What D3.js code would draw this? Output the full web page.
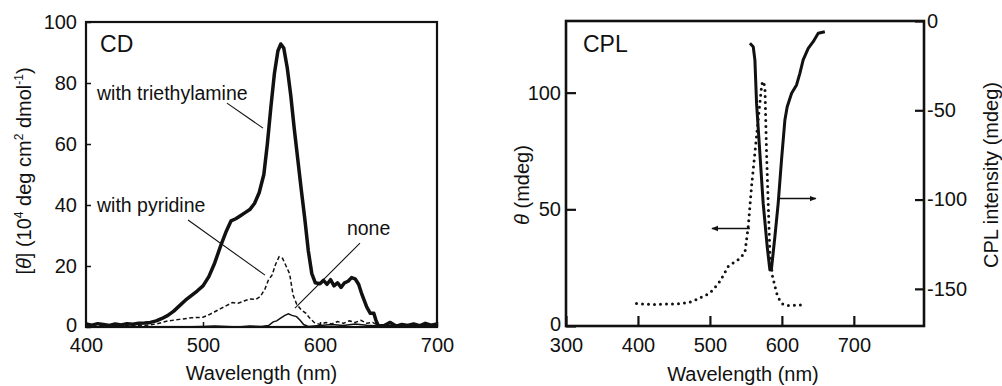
<!DOCTYPE html>
<html>
<head>
<meta charset="utf-8">
<script src="https://cdn.jsdelivr.net/npm/d3@7"></script>
<style>
  html, body { margin: 0; padding: 0; background: #fff; }
  svg { display: block; font-family: "Liberation Sans", Arial, sans-serif; }
  text { fill: #111; }
</style>
</head>
<body>
<svg id="chart" width="1002" height="386"></svg>
<script>
// ---------------- DATA ----------------
// Left panel (CD) – wavelength (nm) and [θ] (10^4 deg cm2 dmol-1)
const teaWl  = [400,405,410,415,420,425,430,435,440,445,450,455,460,465,470,475,480,485,490,495,500,505,510,515,520,524,528,532,536,540,544,548,552,555,558,561,564,566.5,569,572,575,578,581,584,587,590,593,596,600,603,606,609,612,615,618,621,624,627,630,633,636,640,643,646,648,650,655,660,665,670,675,680,685,690,695,700];
const teaVal = [1.0,0.6,1.1,0.8,0.5,1.0,0.7,1.1,0.9,1.2,1.3,1.5,2.0,2.8,3.8,5.2,7.0,8.8,10.3,11.8,13.5,16.5,21,26.5,31.5,34.8,35.5,36.5,37.5,38.5,40.5,44,50,60,72,83,90.5,92.8,91.5,85,76,65,55,45,35.5,25,17.5,14.5,14.2,15.3,14.0,15.5,13.5,14.5,13.0,14.5,15.0,16.2,15.8,14.0,10.5,6.5,4.5,4.5,2.0,0.3,0.5,1.5,0.3,0.8,0.5,1.0,0.4,1.2,0.6,1.0];

const pyrWl  = [400,410,420,430,440,450,460,470,480,490,500,505,510,515,520,525,530,535,540,545,549,553,556,559,562,565,568,571,574,577,580,584,588,591,595,600,605,610,615,620,625,630,635,640,645,650,660,670,680,690,700];
const pyrVal = [0.5,0.3,0.6,0.4,0.6,0.5,1.0,2.0,2.5,3.0,3.2,4.0,5.0,6.0,7.0,8.0,7.8,8.5,9.2,9.0,10,12.5,15.5,17,20.5,23,22.5,20,17.5,10.5,7.5,5.6,4.5,3,1.5,0.8,1.5,1.0,1.8,1.2,2.0,1.5,2.2,1.2,1.5,0.5,0.8,0.5,0.7,0.4,0.6];

const noneWl  = [400,420,440,460,480,500,510,520,530,540,550,556,560,563,566,570,573,576,580,583,586,590,600,610,620,630,640,650,660,670,680,690,700];
const noneVal = [0,0.2,0,0.1,0,0.2,0.3,0.2,0,0.3,0.2,0.5,1.7,2.0,2.8,3.8,4.3,3.8,3.4,2.2,0.8,0.2,0.5,0.8,0.5,1.0,0.6,0.3,0.5,0.8,0.4,0.8,0.5];

// Right panel (CPL)
const thetaWl  = [398,412,426,440,454,468,478,486,493,500,507,514,520,525.5,531,537,543,548.6,553.2,557.9,562.5,567.1,571.8,573.2,576.4,578.7,581,583.3,587,592.6,597,601.8,608,615.7,624,632];
const thetaVal = [9.6,9.3,9.2,9.4,9.5,9.9,10.8,12.1,13.0,14.2,16.5,19.2,22.5,25.6,26.8,27.8,29.5,31.4,42.5,60,74.2,88.5,102.8,104.9,102.8,74.2,52.8,31.4,21.3,14.2,11.0,9.2,8.8,8.8,9.0,8.8];

const cplWl  = [555.6,560.2,562.5,564.8,569.4,574,579.6,583.3,585.6,590.3,594.9,599.5,604.2,607.4,613.5,620.4,625,629.6,636.6,643.5,650.5,659.7];
const cplVal = [-12.5,-14.4,-21.8,-46,-74,-102,-126.4,-139.4,-138.5,-120.8,-102,-77.8,-55.4,-48,-40.5,-35.8,-29.3,-21.8,-15.3,-11.6,-6.9,-6.0];

// Tick values
const cdXTicks = [400,500,600,700];
const cdYTicks = [0,20,40,60,80,100];
const cplXTicks = [300,400,500,600,700];
const cplYTicks = [0,50,100];
const cplY2Ticks = [0,-50,-100,-150];

// Annotations (data units)
const cdLabels = [
  {text:"with triethylamine", wl:409.4, v:74.3, from:[520.5,73.4], to:[551.3,65.2]},
  {text:"with pyridine",      wl:409.4, v:37.6, from:[487.2,35.1], to:[553.0,17.0]},
  {text:"none",               wl:623.0, v:30.2, from:[634.2,27.5], to:[578.6,6.2]}
];
const cplArrows = [
  {from:[555.6,41.8], to:[502.8,41.8]},
  {from:[597.2,54.6], to:[647.2,54.6]}
];

// ---------------- DRAW ----------------
const svg = d3.select("#chart");
const defs = svg.append("defs");
defs.append("marker").attr("id","arrow").attr("viewBox","0 0 10 10")
  .attr("refX",9).attr("refY",5).attr("markerWidth",7).attr("markerHeight",7)
  .attr("markerUnits","userSpaceOnUse").attr("orient","auto")
  .append("path").attr("d","M0,1 L10,5 L0,9 Z").attr("fill","#111");

const fmt = d => String(d);   // plain hyphen-minus like the reference

function styleAxis(g, fs){
  g.select(".domain").remove();
  g.selectAll(".tick line").attr("stroke","#111").attr("stroke-width",1.5);
  g.selectAll(".tick text").attr("font-size",fs).attr("fill","#111")
    .attr("font-family","'Liberation Sans', Arial, sans-serif");
}
function nudgeZero(g, dy){
  g.selectAll(".tick").filter(d=>d===0).select("text").attr("y", function(){ return (+d3.select(this).attr("y")||0) + dy; });
}

// ---- Left panel ----
const L = {x0:86, x1:437, y0:22, y1:327};
const xL = d3.scaleLinear().domain([400,700]).range([L.x0,L.x1]);
const yL = d3.scaleLinear().domain([0,100]).range([L.y1,L.y0]);
const gL = svg.append("g");

gL.append("g").attr("transform",`translate(0,${L.y1})`)
  .call(d3.axisBottom(xL).tickValues(cdXTicks).tickSizeInner(-5).tickSizeOuter(0).tickPadding(11).tickFormat(fmt))
  .call(g=>styleAxis(g,20));
gL.append("g").attr("transform",`translate(${L.x0},0)`)
  .call(d3.axisLeft(yL).tickValues(cdYTicks).tickSizeInner(-5).tickSizeOuter(0).tickPadding(9).tickFormat(fmt))
  .call(g=>styleAxis(g,20)).call(g=>nudgeZero(g,-2));

const lineL = (wl, v) => d3.line().x((d,i)=>xL(wl[i])).y((d,i)=>yL(v[i])).curve(d3.curveLinear)(wl);
gL.append("path").attr("d",lineL(noneWl,noneVal)).attr("fill","none").attr("stroke","#111").attr("stroke-width",1.5);
gL.append("path").attr("d",lineL(pyrWl,pyrVal)).attr("fill","none").attr("stroke","#111").attr("stroke-width",1.5).attr("stroke-dasharray","4,2.5");
gL.append("path").attr("d",lineL(teaWl,teaVal)).attr("fill","none").attr("stroke","#111").attr("stroke-width",3.5).attr("stroke-linejoin","round");

gL.append("rect").attr("x",L.x0).attr("y",L.y0).attr("width",L.x1-L.x0).attr("height",L.y1-L.y0)
  .attr("fill","none").attr("stroke","#111").attr("stroke-width",2.2);

cdLabels.forEach(a=>{
  gL.append("text").attr("x",xL(a.wl)).attr("y",yL(a.v)).attr("font-size",19.5).text(a.text);
  gL.append("line").attr("x1",xL(a.from[0])).attr("y1",yL(a.from[1])).attr("x2",xL(a.to[0])).attr("y2",yL(a.to[1]))
    .attr("stroke","#111").attr("stroke-width",1.1);
});
gL.append("text").attr("x",xL(412)).attr("y",yL(90.2)).attr("font-size",23).text("CD");

gL.append("text").attr("x",(L.x0+L.x1)/2).attr("y",380).attr("text-anchor","middle").attr("font-size",20).text("Wavelength (nm)");

const yt = gL.append("text").attr("transform",`translate(31,${171}) rotate(-90)`).attr("text-anchor","middle").attr("font-size",20);
yt.append("tspan").text("[");
yt.append("tspan").attr("font-style","italic").text("θ");
yt.append("tspan").text("] (10");
yt.append("tspan").attr("font-size",12).attr("dy",-8).text("4");
yt.append("tspan").attr("dy",8).text(" deg cm");
yt.append("tspan").attr("font-size",12).attr("dy",-8).text("2");
yt.append("tspan").attr("dy",8).text(" dmol");
yt.append("tspan").attr("font-size",12).attr("dy",-8).text("-1");
yt.append("tspan").attr("dy",8).text(")");

// ---- Right panel ----
const R = {x0:566, x1:924, y0:21, y1:326};
const xR = d3.scaleLinear().domain([300,797.5]).range([R.x0,R.x1]);
const yR = d3.scaleLinear().domain([0,130.7]).range([R.y1,R.y0]);
const yR2 = d3.scaleLinear().domain([-170.8,0]).range([R.y1,R.y0]);
const gR = svg.append("g");

gR.append("g").attr("transform",`translate(0,${R.y1})`)
  .call(d3.axisBottom(xR).tickValues(cplXTicks).tickSizeInner(-10).tickSizeOuter(0).tickPadding(12).tickFormat(fmt))
  .call(g=>styleAxis(g,20)).call(g=>g.selectAll(".tick line").attr("stroke-width",2.2));
gR.append("g").attr("transform",`translate(${R.x0},0)`)
  .call(d3.axisLeft(yR).tickValues(cplYTicks).tickSizeInner(-10).tickSizeOuter(0).tickPadding(5).tickFormat(fmt))
  .call(g=>styleAxis(g,20)).call(g=>g.selectAll(".tick line").attr("stroke-width",2.2)).call(g=>nudgeZero(g,-2));
gR.append("g").attr("transform",`translate(${R.x1},0)`)
  .call(d3.axisRight(yR2).tickValues(cplY2Ticks).tickSizeInner(-9).tickSizeOuter(0).tickPadding(3).tickFormat(fmt))
  .call(g=>styleAxis(g,20)).call(g=>g.selectAll(".tick line").attr("stroke-width",2.2));

const lineTheta = d3.line().x((d,i)=>xR(thetaWl[i])).y((d,i)=>yR(thetaVal[i]));
gR.append("path").attr("d",lineTheta(thetaWl)).attr("fill","none").attr("stroke","#111").attr("stroke-width",3)
  .attr("stroke-linecap","round").attr("stroke-dasharray","0,6");
const lineCpl = d3.line().x((d,i)=>xR(cplWl[i])).y((d,i)=>yR2(cplVal[i]));
gR.append("path").attr("d",lineCpl(cplWl)).attr("fill","none").attr("stroke","#111").attr("stroke-width",3).attr("stroke-linejoin","round");

gR.append("rect").attr("x",R.x0).attr("y",R.y0).attr("width",R.x1-R.x0).attr("height",R.y1-R.y0)
  .attr("fill","none").attr("stroke","#111").attr("stroke-width",2.6);

cplArrows.forEach(a=>{
  gR.append("line").attr("x1",xR(a.from[0])).attr("y1",yR(a.from[1])).attr("x2",xR(a.to[0])).attr("y2",yR(a.to[1]))
    .attr("stroke","#111").attr("stroke-width",1.5).attr("marker-end","url(#arrow)");
});
gR.append("text").attr("x",xR(323.6)).attr("y",yR(117.6)).attr("font-size",23).text("CPL");

gR.append("text").attr("x",(R.x0+R.x1)/2 - 2).attr("y",381).attr("text-anchor","middle").attr("font-size",20).text("Wavelength (nm)");
const tt = gR.append("text").attr("transform",`translate(529,185) rotate(-90)`).attr("text-anchor","middle").attr("font-size",20);
tt.append("tspan").attr("font-style","italic").text("θ");
tt.append("tspan").text(" (mdeg)");
gR.append("text").attr("transform",`translate(998,175) rotate(-90)`).attr("text-anchor","middle").attr("font-size",20).text("CPL intensity (mdeg)");
</script>
</body>
</html>
